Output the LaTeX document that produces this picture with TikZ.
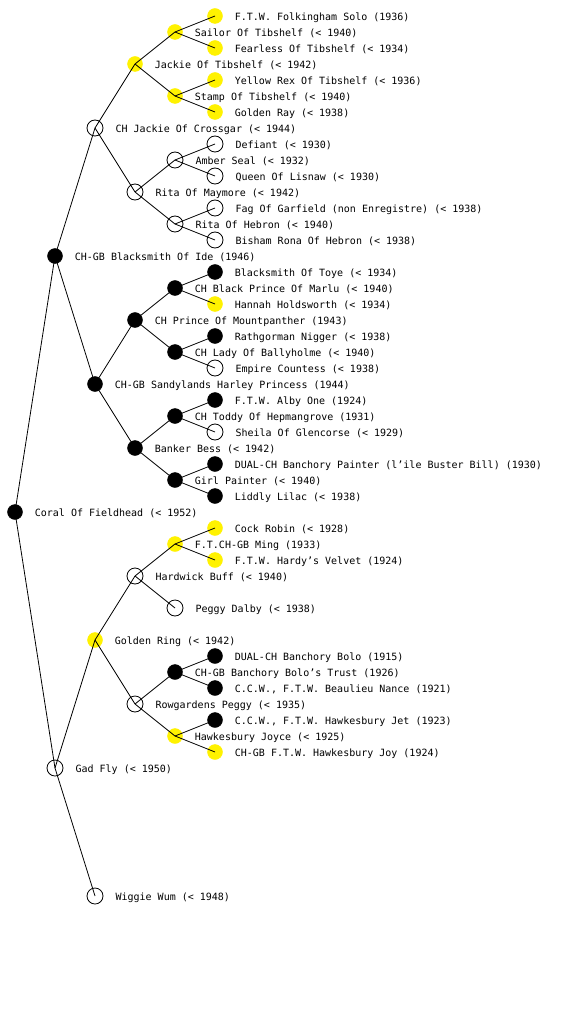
\documentclass[tikz,border=0pt]{standalone}
\usepackage{fontspec}
\setmainfont{DejaVu Sans Mono}
\usepackage{tikz}
\usetikzlibrary{positioning, patterns}

\begin{document}
\begin{tikzpicture}[
  x=1pt, y=-1pt,
  blackdog/.style={circle, draw=black, fill=black, minimum size=15pt, inner sep=0pt},
  yellowdog/.style={circle, draw=yellow, fill=yellow, minimum size=15pt, inner sep=0pt},
  whitedog/.style={circle, draw=black, line width=0.8pt, minimum size=16pt, inner sep=0pt},
  every label/.style={font=\fontsize{10}{12}\selectfont, inner sep=0pt, anchor=west, yshift=-1.5pt},
  label distance=12pt,
  edge/.style={line width=0.8pt, black}
]
  \useasboundingbox[fill=white] (0,0) rectangle (560,1024);

  % generation 0 to 2
  \node[blackdog, label=0:Coral Of Fieldhead (< 1952)] (coral) at (15,512) {};
  \node[blackdog, label=0:CH-GB Blacksmith Of Ide (1946)] (ide) at (55,256) {};
  \node[whitedog, label=0:Gad Fly (< 1950)] (gadfly) at (55,768) {};
  \node[whitedog, label=0:CH Jackie Of Crossgar (< 1944)] (crossgar) at (95,128) {};
  \node[blackdog, label=0:CH-GB Sandylands Harley Princess (1944)] (sandylands) at (95,384) {};
  \node[yellowdog, label=0:Golden Ring (< 1942)] (goldenring) at (95,640) {};
  \node[whitedog, label=0:Wiggie Wum (< 1948)] (wiggie) at (95,896) {};

  % generation 3
  \node[yellowdog, label=0:Jackie Of Tibshelf (< 1942)] (jackie) at (135,64) {};
  \node[whitedog, label=0:Rita Of Maymore (< 1942)] (maymore) at (135,192) {};
  \node[blackdog, label=0:CH Prince Of Mountpanther (1943)] (mountpanther) at (135,320) {};
  \node[blackdog, label=0:Banker Bess (< 1942)] (banker) at (135,448) {};
  \node[whitedog, label=0:Hardwick Buff (< 1940)] (hardwick) at (135,576) {};
  \node[whitedog, label=0:Rowgardens Peggy (< 1935)] (rowgardens) at (135,704) {};

  % generation 4
  \node[yellowdog, label=0:Sailor Of Tibshelf (< 1940)] (sailor) at (175,32) {};
  \node[yellowdog, label=0:Stamp Of Tibshelf (< 1940)] (stamp) at (175,96) {};
  \node[whitedog, label=0:Amber Seal (< 1932)] (amber) at (175,160) {};
  \node[whitedog, label=0:Rita Of Hebron (< 1940)] (hebron) at (175,224) {};
  \node[blackdog, label=0:CH Black Prince Of Marlu (< 1940)] (blackprince) at (175,288) {};
  \node[blackdog, label=0:CH Lady Of Ballyholme (< 1940)] (lady) at (175,352) {};
  \node[blackdog, label=0:CH Toddy Of Hepmangrove (1931)] (toddy) at (175,416) {};
  \node[blackdog, label=0:Girl Painter (< 1940)] (girl) at (175,480) {};
  \node[yellowdog, label=0:F.T.CH-GB Ming (1933)] (ming) at (175,544) {};
  \node[whitedog, label=0:Peggy Dalby (< 1938)] (dalby) at (175,608) {};
  \node[blackdog, label=0:CH-GB Banchory Bolo's Trust (1926)] (trust) at (175,672) {};
  \node[yellowdog, label=0:Hawkesbury Joyce (< 1925)] (joyce) at (175,736) {};

  % generation 5
  \node[yellowdog, label=0:F.T.W. Folkingham Solo (1936)] (solo) at (215,16) {};
  \node[yellowdog, label=0:Fearless Of Tibshelf (< 1934)] (fearless) at (215,48) {};
  \node[yellowdog, label=0:Yellow Rex Of Tibshelf (< 1936)] (rex) at (215,80) {};
  \node[yellowdog, label=0:Golden Ray (< 1938)] (ray) at (215,112) {};
  \node[whitedog, label=0:Defiant (< 1930)] (defiant) at (215,144) {};
  \node[whitedog, label=0:Queen Of Lisnaw (< 1930)] (queen) at (215,176) {};
  \node[whitedog, label=0:Fag Of Garfield (non Enregistre) (< 1938)] (fag) at (215,208) {};
  \node[whitedog, label=0:Bisham Rona Of Hebron (< 1938)] (bisham) at (215,240) {};
  \node[blackdog, label=0:Blacksmith Of Toye (< 1934)] (toye) at (215,272) {};
  \node[yellowdog, label=0:Hannah Holdsworth (< 1934)] (hannah) at (215,304) {};
  \node[blackdog, label=0:Rathgorman Nigger (< 1938)] (rathgorman) at (215,336) {};
  \node[whitedog, label=0:Empire Countess (< 1938)] (empire) at (215,368) {};
  \node[blackdog, label=0:F.T.W. Alby One (1924)] (alby) at (215,400) {};
  \node[whitedog, label=0:Sheila Of Glencorse (< 1929)] (sheila) at (215,432) {};
  \node[blackdog, label=0:DUAL-CH Banchory Painter (l'ile Buster Bill) (1930)] (painter) at (215,464) {};
  \node[blackdog, label=0:Liddly Lilac (< 1938)] (liddly) at (215,496) {};
  \node[yellowdog, label=0:Cock Robin (< 1928)] (robin) at (215,528) {};
  \node[yellowdog, label=0:F.T.W. Hardy's Velvet (1924)] (velvet) at (215,560) {};
  \node[blackdog, label=0:DUAL-CH Banchory Bolo (1915)] (bolo) at (215,656) {};
  \node[blackdog, label=0:{C.C.W., F.T.W. Beaulieu Nance (1921)}] (nance) at (215,688) {};
  \node[blackdog, label=0:{C.C.W., F.T.W. Hawkesbury Jet (1923)}] (jet) at (215,720) {};
  \node[yellowdog, label=0:CH-GB F.T.W. Hawkesbury Joy (1924)] (joy) at (215,752) {};

  % sire and dam lines
  \draw[edge] (coral.center) -- (ide.center);
  \draw[edge] (coral.center) -- (gadfly.center);
  \draw[edge] (ide.center) -- (crossgar.center);
  \draw[edge] (ide.center) -- (sandylands.center);
  \draw[edge] (gadfly.center) -- (goldenring.center);
  \draw[edge] (gadfly.center) -- (wiggie.center);
  \draw[edge] (crossgar.center) -- (jackie.center);
  \draw[edge] (crossgar.center) -- (maymore.center);
  \draw[edge] (sandylands.center) -- (mountpanther.center);
  \draw[edge] (sandylands.center) -- (banker.center);
  \draw[edge] (goldenring.center) -- (hardwick.center);
  \draw[edge] (goldenring.center) -- (rowgardens.center);
  \draw[edge] (jackie.center) -- (sailor.center);
  \draw[edge] (jackie.center) -- (stamp.center);
  \draw[edge] (maymore.center) -- (amber.center);
  \draw[edge] (maymore.center) -- (hebron.center);
  \draw[edge] (mountpanther.center) -- (blackprince.center);
  \draw[edge] (mountpanther.center) -- (lady.center);
  \draw[edge] (banker.center) -- (toddy.center);
  \draw[edge] (banker.center) -- (girl.center);
  \draw[edge] (hardwick.center) -- (ming.center);
  \draw[edge] (hardwick.center) -- (dalby.center);
  \draw[edge] (rowgardens.center) -- (trust.center);
  \draw[edge] (rowgardens.center) -- (joyce.center);
  \draw[edge] (sailor.center) -- (solo.center);
  \draw[edge] (sailor.center) -- (fearless.center);
  \draw[edge] (stamp.center) -- (rex.center);
  \draw[edge] (stamp.center) -- (ray.center);
  \draw[edge] (amber.center) -- (defiant.center);
  \draw[edge] (amber.center) -- (queen.center);
  \draw[edge] (hebron.center) -- (fag.center);
  \draw[edge] (hebron.center) -- (bisham.center);
  \draw[edge] (blackprince.center) -- (toye.center);
  \draw[edge] (blackprince.center) -- (hannah.center);
  \draw[edge] (lady.center) -- (rathgorman.center);
  \draw[edge] (lady.center) -- (empire.center);
  \draw[edge] (toddy.center) -- (alby.center);
  \draw[edge] (toddy.center) -- (sheila.center);
  \draw[edge] (girl.center) -- (painter.center);
  \draw[edge] (girl.center) -- (liddly.center);
  \draw[edge] (ming.center) -- (robin.center);
  \draw[edge] (ming.center) -- (velvet.center);
  \draw[edge] (trust.center) -- (bolo.center);
  \draw[edge] (trust.center) -- (nance.center);
  \draw[edge] (joyce.center) -- (jet.center);
  \draw[edge] (joyce.center) -- (joy.center);
\end{tikzpicture}
\end{document}
